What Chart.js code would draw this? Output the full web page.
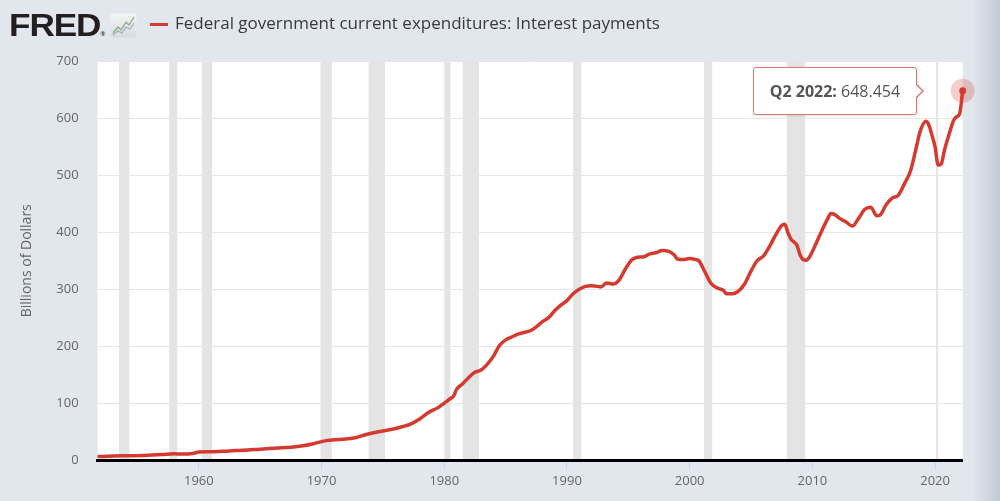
<!DOCTYPE html>
<html>
<head>
<meta charset="utf-8">
<script src="https://cdn.jsdelivr.net/npm/chart.js@4/dist/chart.umd.min.js"></script>
<style>
  html, body { margin: 0; padding: 0; }
  body { width: 1000px; height: 501px; background: #e2e7ee; position: relative; overflow: hidden; font-family: 'Open Sans', sans-serif; }
  #wrap { position: absolute; left: 0; top: 0; width: 1000px; height: 501px; }
  #logo { position: absolute; left: 9px; top: 7px; font-family: 'Liberation Sans', Arial, sans-serif; font-weight: 700; font-size: 32px; letter-spacing: -1px; color: #231f20; transform: scaleX(1.1); transform-origin: left top; }
  #logo .reg { font-size: 6px; letter-spacing: 0; vertical-align: baseline; }
  #icon { position: absolute; left: 110px; top: 13px; }
  #legend { position: absolute; left: 150px; top: 11px; height: 26px; }
  #legend .swatch { position: absolute; left: 0; top: 12px; width: 18px; height: 3px; background: #d43a2f; }
  #legend .ltext { position: absolute; left: 25px; top: 0; white-space: nowrap; font-size: 17px; color: #3a3a3a; }
  #shade { position: absolute; right: 0; top: 0; width: 28px; height: 501px; background: linear-gradient(to right, rgba(190,198,208,0), rgba(190,198,208,0.9)); }
  #tip { position: absolute; background: rgba(255,255,255,0.97); border: 1px solid #d9776f; border-radius: 3px; padding: 12px 16px; font-size: 16px; color: #555; white-space: nowrap; box-shadow: 1px 1px 3px rgba(0,0,0,0.12); opacity: 0; }
  #tip b { font-weight: 700; color: #555; }
  #tip::before, #tip::after { content: ''; position: absolute; top: 50%; border-style: solid; border-color: transparent; }
  #tip::before { right: -8px; margin-top: -8px; border-width: 8px 0 8px 8px; border-left-color: #d9776f; }
  #tip::after { right: -6px; margin-top: -7px; border-width: 7px 0 7px 7px; border-left-color: #fff; }
</style>
</head>
<body>
<div id="wrap"><canvas id="myChart"></canvas></div>
<div id="logo">FRED<span class="reg">®</span></div>
<svg id="icon" width="27" height="25" viewBox="0 0 27 25">
  <defs><linearGradient id="ig" x1="0" y1="0" x2="0" y2="1"><stop offset="0" stop-color="#f4f5f7"/><stop offset="1" stop-color="#d7dadf"/></linearGradient></defs>
  <rect x="0.5" y="0.5" width="26" height="24" rx="2" fill="url(#ig)"/>
  <polyline points="3,20 8,14 11,17 16,9 19,12 24,4" fill="none" stroke="#8fb07a" stroke-width="1.4"/>
  <polyline points="3,22 8,18 12,20 16,14 20,16 24,10" fill="none" stroke="#9ab0c8" stroke-width="1.2"/>
</svg>
<div id="legend"><span class="swatch"></span><span class="ltext">Federal government current expenditures: Interest payments</span></div>
<div id="shade"></div>
<div id="tip"></div>
<script>
const quarters = [
  '1951Q4', '1953Q1', '1954Q2', '1955Q3', '1957Q1', '1958Q1', '1958Q3', '1959Q3', '1960Q1', '1961Q1',
  '1962Q3', '1964Q1', '1965Q1', '1966Q3', '1967Q3', '1968Q3', '1969Q2', '1969Q4', '1970Q3', '1971Q1',
  '1972Q1', '1972Q4', '1973Q3', '1974Q2', '1975Q1', '1975Q4', '1976Q3', '1977Q2', '1978Q1', '1978Q4',
  '1979Q3', '1980Q1', '1980Q3', '1980Q4', '1981Q1', '1981Q3', '1982Q1', '1982Q3', '1983Q1', '1983Q3',
  '1984Q1', '1984Q3', '1985Q1', '1985Q3', '1986Q1', '1986Q3', '1987Q1', '1987Q3', '1988Q1', '1988Q3',
  '1989Q1', '1989Q3', '1990Q1', '1990Q3', '1991Q1', '1991Q3', '1992Q1', '1992Q3', '1992Q4', '1993Q2',
  '1993Q4', '1994Q2', '1994Q4', '1995Q2', '1995Q4', '1996Q2', '1996Q4', '1997Q2', '1997Q4', '1998Q2',
  '1998Q4', '1999Q1', '1999Q3', '2000Q1', '2000Q3', '2000Q4', '2001Q2', '2001Q4', '2002Q2', '2002Q4',
  '2003Q1', '2003Q3', '2004Q1', '2004Q3', '2005Q1', '2005Q3', '2006Q1', '2006Q3', '2007Q1', '2007Q3',
  '2007Q4', '2008Q1', '2008Q2', '2008Q4', '2009Q1', '2009Q2', '2009Q3', '2009Q4', '2010Q2', '2010Q4',
  '2011Q2', '2011Q3', '2011Q4', '2012Q2', '2012Q4', '2013Q2', '2013Q4', '2014Q2', '2014Q4', '2015Q2',
  '2015Q3', '2016Q1', '2016Q3', '2017Q1', '2017Q3', '2018Q1', '2018Q3', '2018Q4', '2019Q2', '2019Q3',
  '2019Q4', '2020Q1', '2020Q2', '2020Q3', '2020Q4', '2021Q2', '2021Q3', '2021Q4', '2022Q1', '2022Q2'
];
const values = [
  6, 7, 7.5, 8, 9.5, 11, 10.5, 11.5, 14, 14.5,
  16, 17.5, 19, 21, 22.5, 25, 28, 31, 34.5, 35.5,
  37, 39, 44, 48, 51, 54, 58, 63, 72, 84,
  92, 100, 108, 112, 124, 134, 145, 154, 158, 168,
  182, 201, 211, 216, 221, 224, 227, 234, 243, 250,
  262, 272, 280, 292, 300, 305, 306, 305, 304, 311,
  309, 316, 335, 351, 356, 357, 362, 364, 368, 367,
  360, 353, 352, 354, 352, 350, 330, 310, 302, 298,
  292, 292, 297, 310, 332, 350, 358, 375, 395, 412,
  414, 400, 388, 377, 360, 352, 351, 356, 378, 402,
  424, 433, 432, 424, 418, 411, 424, 440, 444, 429,
  430, 448, 460, 465, 485, 508, 552, 575, 595, 588,
  570, 550, 518, 520, 543, 580, 596, 603, 608, 648.454
];
// NBER recessions, peak month to trough month
const recessionStart = ['1953-07', '1957-08', '1960-04', '1969-12', '1973-11', '1980-01', '1981-07', '1990-07', '2001-03', '2007-12', '2020-02'];
const recessionEnd   = ['1954-05', '1958-04', '1961-02', '1970-11', '1975-03', '1980-07', '1982-11', '1991-03', '2001-11', '2009-06', '2020-04'];
const xTickYears = [1960, 1970, 1980, 1990, 2000, 2010, 2020];
const yTicks = [0, 100, 200, 300, 400, 500, 600, 700];

const seriesName = 'Federal government current expenditures: Interest payments';
const lineColor = '#d43a2f';

const quarterToYear = (q) => parseInt(q.slice(0, 4)) + (parseInt(q.slice(5)) - 1) / 4;
const monthToYear = (m) => parseInt(m.slice(0, 4)) + (parseInt(m.slice(5)) - 1) / 12;
const quarterLabel = (q) => `Q${q.slice(5)} ${q.slice(0, 4)}`;

const points = quarters.map((q, i) => ({ x: quarterToYear(q), y: values[i] }));
const last = points.length - 1;

const plotBackground = {
  id: 'plotBackground',
  beforeDraw(chart) {
    const { ctx, chartArea: a, scales: { x } } = chart;
    ctx.save();
    ctx.fillStyle = '#ffffff';
    ctx.fillRect(a.left, a.top, a.right - a.left, a.bottom - a.top);
    ctx.fillStyle = '#e4e4e4';
    recessionStart.forEach((s, i) => {
      const x0 = x.getPixelForValue(monthToYear(s));
      const x1 = x.getPixelForValue(monthToYear(recessionEnd[i]));
      ctx.fillRect(x0, a.top, x1 - x0, a.bottom - a.top);
    });
    ctx.restore();
  }
};

const tipEl = document.getElementById('tip');
const externalTooltip = ({ chart, tooltip }) => {
  if (!tooltip.dataPoints || tooltip.dataPoints.length === 0) {
    tipEl.style.opacity = 0;
    return;
  }
  const dp = tooltip.dataPoints[0];
  tipEl.innerHTML = `<b>${quarterLabel(quarters[dp.dataIndex])}:</b> ${values[dp.dataIndex].toFixed(3)}`;
  tipEl.style.opacity = 1;
  const box = chart.canvas.getBoundingClientRect();
  tipEl.style.left = (box.left + tooltip.caretX - 46 - tipEl.offsetWidth) + 'px';
  tipEl.style.top = (box.top + tooltip.caretY - tipEl.offsetHeight / 2) + 'px';
};

Chart.defaults.font.family = "'Open Sans', sans-serif";
Chart.defaults.color = '#666';

const ctx = document.getElementById('myChart').getContext('2d');
const chart = new Chart(ctx, {
  type: 'line',
  data: {
    datasets: [{
      label: seriesName,
      data: points,
      borderColor: lineColor,
      borderWidth: 3.5,
      cubicInterpolationMode: 'monotone',
      pointRadius: (c) => c.dataIndex === last ? 3.5 : 0,
      pointBackgroundColor: lineColor,
      pointBorderWidth: 0,
      pointHoverRadius: 3.5,
      clip: false,
      order: 0
    }, {
      label: 'halo',
      data: [points[last]],
      showLine: false,
      pointRadius: 12,
      pointHoverRadius: 12,
      pointBackgroundColor: 'rgba(212, 58, 47, 0.25)',
      pointBorderWidth: 0,
      clip: false,
      order: 1
    }]
  },
  options: {
    responsive: true,
    maintainAspectRatio: false,
    animation: false,
    events: [],
    layout: { padding: { top: 61.5, right: 37.3, bottom: 0, left: 0 } },
    plugins: {
      legend: { display: false },
      tooltip: { enabled: false, external: externalTooltip }
    },
    scales: {
      x: {
        type: 'linear',
        min: quarterToYear(quarters[0]),
        max: quarterToYear(quarters[last]),
        afterBuildTicks: (scale) => { scale.ticks = xTickYears.map(v => ({ value: v })); },
        afterFit: (scale) => { scale.height = 41; },
        grid: { drawOnChartArea: false, drawTicks: true, tickLength: 10, color: '#ccd6eb' },
        border: { display: true, color: '#000', width: 3 },
        ticks: { padding: 3, font: { size: 13 }, color: '#666', callback: (v) => String(v) }
      },
      y: {
        min: 0,
        max: 700,
        afterBuildTicks: (scale) => { scale.ticks = yTicks.map(v => ({ value: v })); },
        afterFit: (scale) => { scale.width = 97.6; },
        grid: { color: '#e6e6e6', drawTicks: false },
        border: { display: false },
        ticks: { padding: 19, font: { size: 13 }, color: '#666' },
        title: { display: true, text: 'Billions of Dollars', font: { size: 14 }, color: '#666', padding: { top: 19, bottom: 0 } }
      }
    }
  },
  plugins: [plotBackground]
});

chart.tooltip.setActiveElements([{ datasetIndex: 0, index: last }], { x: 0, y: 0 });
chart.draw();
</script>
</body>
</html>
